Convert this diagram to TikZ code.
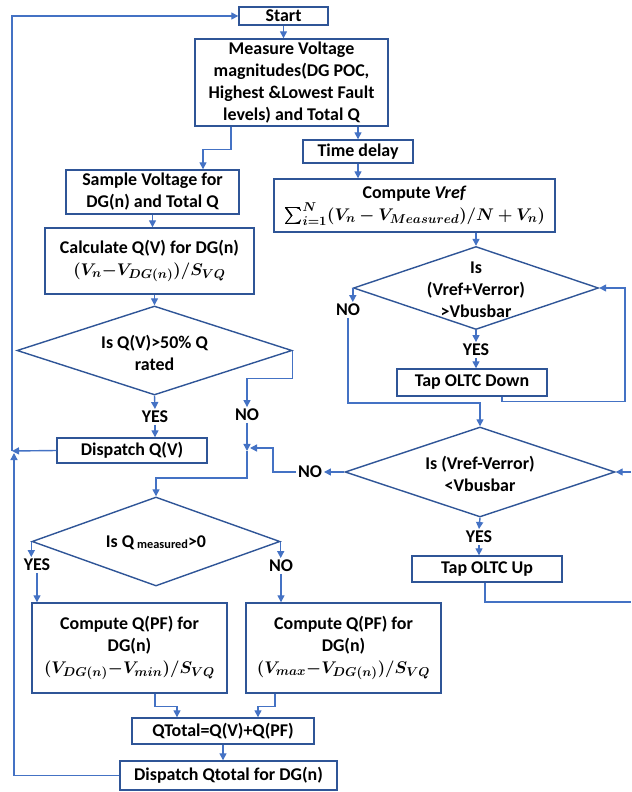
\documentclass[tikz,border=0pt]{standalone}
\usepackage{fontspec}
\usepackage{amsmath,bm}
\setmainfont{Carlito}
\usetikzlibrary{calc,arrows.meta,shapes.geometric}
\definecolor{boxblue}{HTML}{2F5597}
\definecolor{lineblue}{HTML}{4472C4}

\begin{document}
\begin{tikzpicture}[x=0.03cm,y=-0.03cm,
  every node/.style={font=\bfseries\fontsize{15.3}{18.7}\selectfont},
  sz/.style 2 args={minimum width=#1*0.03cm,minimum height=#2*0.03cm},
  box/.style={draw=boxblue,line width=1.2pt,inner sep=0pt,align=center},
  dec/.style={draw=boxblue,line width=1.2pt,diamond,inner sep=0pt},
  dtext/.style={align=center,inner sep=0pt},
  lbl/.style={inner sep=1.5pt},
  arr/.style={draw=lineblue,line width=1.2pt,-{Triangle[length=6pt,width=6pt]}},
  wire/.style={draw=lineblue,line width=1.2pt}]
  \useasboundingbox (0,0) rectangle (631,792);

  \node[box,sz={89}{18}] (start) at (283.5,16) {Start};
  \node[box,sz={193}{87}] (measure) at (291.5,82.5)
    {Measure Voltage\\magnitudes(DG POC,\\Highest \&Lowest Fault\\levels) and Total Q};
  \node[box,sz={110}{23}] (delay) at (358,151.5) {Time delay};
  \node[box,sz={281}{53}] (vref) at (414.5,205.5)
    {Compute \textit{Vref}\\$\bm{\sum_{i=1}^{N}(V_n-V_{Measured})/N+V_n)}$};
  \node[dec,sz={245}{83}] (d1) at (476,288) {};
  \node[dtext] (d1t) at (476,290) {Is\\(Vref+Verror)\\>Vbusbar};
  \node[box,sz={150}{27}] (tdown) at (472,382.5) {Tap OLTC Down};
  \node[dec,sz={270}{90}] (d2) at (480,472) {};
  \node[dtext] (d2t) at (480,474) {Is (Vref-Verror)\\<Vbusbar};
  \node[box,sz={150}{26}] (tup) at (487,569) {Tap OLTC Up};

  \node[box,sz={173}{44}] (sample) at (152.5,192) {Sample Voltage for\\DG(n) and Total Q};
  \node[box,sz={209}{66}] (calc) at (149.5,261)
    {Calculate Q(V) for DG(n)\\$\bm{(V_n{-}V_{DG(n)})/S_{VQ}}$};
  \node[dec,sz={275}{89}] (dqv) at (154.5,350.5) {};
  \node[dtext] (dqvt) at (154.5,353) {Is Q(V)>50\% Q\\rated};
  \node[box,sz={150}{25}] (dispqv) at (132,450.5) {Dispatch Q(V)};
  \node[dec,sz={248}{89}] (d3) at (156,541.5) {};
  \node[dtext] (d3t) at (156,543)
    {Is Q\,{\fontsize{10.5}{10.5}\selectfont\raisebox{-0.2ex}{measured}}>0};
  \node[box,sz={195}{90}] (pfl) at (129.5,648)
    {Compute Q(PF) for\\DG(n)\\$\bm{(V_{DG(n)}{-}V_{min})/S_{VQ}}$};
  \node[box,sz={195}{90}] (pfr) at (343.5,648)
    {Compute Q(PF) for\\DG(n)\\$\bm{(V_{max}{-}V_{DG(n)})/S_{VQ}}$};
  \node[box,sz={182}{26}] (qtot) at (223,731) {QTotal=Q(V)+Q(PF)};
  \node[box,sz={217}{29}] (dispqt) at (228.5,775.5) {Dispatch Qtotal for DG(n)};

  \node[lbl] (yes1) at (476,350) {YES};
  \node[lbl] (no1) at (348,310) {NO};
  \node[lbl] (yes2) at (479,537) {YES};
  \node[lbl] (no2) at (310,472) {NO};
  \node[lbl] (yes3) at (155,417) {YES};
  \node[lbl] (no3) at (247,415) {NO};
  \node[lbl] (yes4) at (37,565) {YES};
  \node[lbl] (no4) at (281,566) {NO};

  \coordinate (lpa) at (12,451);
  \coordinate (lpb) at (14,453);
  \coordinate (jn) at (247,451);
  \coordinate (jr) at (250,448);
  \coordinate (edgea) at (631,472);
  \coordinate (edgeb) at (631,602);

  \draw[arr] (start.south) -- (measure.north -| start.south);
  \draw[arr] ($(measure.south)+(-60.5,0)$) -- ++(0,23) -| ($(sample.north)+(50.5,0)$);
  \draw[arr] (measure.south -| delay.north) -- (delay.north);
  \draw[arr] (delay.south) -- (delay.south |- vref.north);
  \draw[arr] (vref.south -| d1.north) -- (d1.north);
  \draw[arr] (d1.south) -- (yes1.north);
  \draw[arr] (yes1.south) -- (yes1.south |- tdown.north);
  \draw[arr] ($(tdown.south)+(30,0)$) -- ++(0,5) -- ++(123,0) |- (d1.east);
  \draw[arr] (d1.west) -- (d1.west |- no1.north);
  \draw[arr] (no1.south) -- ++(0,85) -| (d2.north);
  \draw[arr] (d2.south) -- (yes2.north);
  \draw[arr] (yes2.south) -- (yes2.south |- tup.north);
  \draw[wire] ($(tup.south)+(-2,0)$) |- (edgeb);
  \draw[arr] (edgea) -- (d2.east);
  \draw[arr] (d2.west) -- (no2.east);
  \draw[arr] (no2.west) -- ++(-23,0) |- (jr);

  \draw[arr] (sample.south) -- (sample.south |- calc.north);
  \draw[arr] (calc.south -| dqv.north) -- (dqv.north);
  \draw[arr] (dqv.south) -- (yes3.north);
  \draw[arr] (yes3.south) -- (yes3.south |- dispqv.north);
  \draw[arr] (dispqv.west) -- (lpa);
  \draw[arr] (lpa) |- (start.west);
  \draw[arr] (dqv.east) -- ++(0,28) -| (no3.north);
  \draw[arr] (no3.south) -- (jn);
  \draw[arr] (jn) -- ++(0,27) -| (d3.north);
  \draw[arr] (d3.west) -- (d3.west |- yes4.north);
  \draw[arr] (yes4.south) -- (yes4.south |- pfl.north);
  \draw[arr] (d3.east) -- (d3.east |- no4.north);
  \draw[arr] (no4.south) -- (no4.south |- pfr.north);
  \draw[arr] ($(pfl.south)+(25.5,0)$) -- ++(0,13) -| ($(qtot.north)+(-46,0)$);
  \draw[arr] ($(pfr.south)+(-68.5,0)$) -- ++(0,13) -| ($(qtot.north)+(35,0)$);
  \draw[arr] (qtot.south) -- (qtot.south |- dispqt.north);
  \draw[arr] (dispqt.west) -| (lpb);
\end{tikzpicture}
\end{document}
